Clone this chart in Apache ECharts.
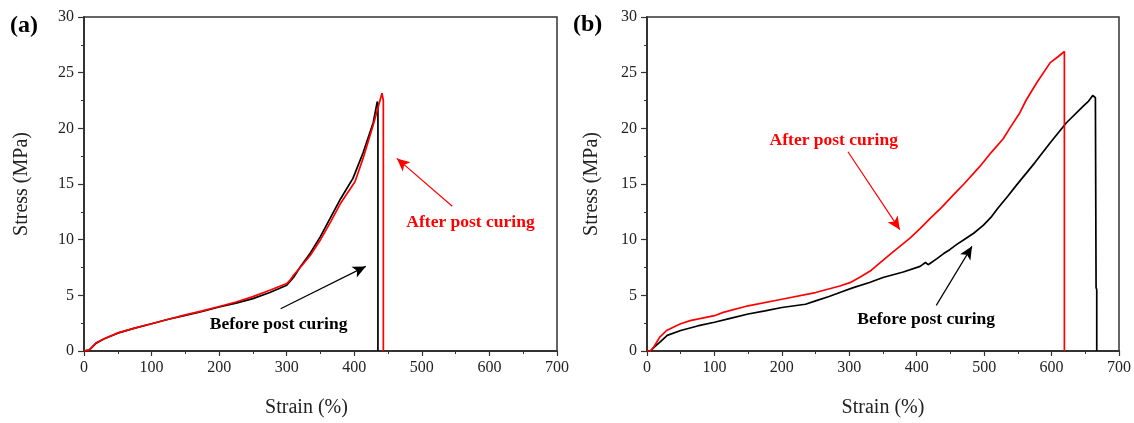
<!DOCTYPE html>
<html>
<head>
<meta charset="utf-8">
<script src="https://cdn.jsdelivr.net/npm/echarts@6/dist/echarts.min.js"></script>
<style>
html,body{margin:0;padding:0;background:#fff;}
#c{width:1134px;height:423px;}
</style>
</head>
<body>
<div id="c"></div>
<script>
// ---- Panel (a) data ----
var aBeforeStrain = [0, 8, 18, 30, 50, 75, 100, 125, 150, 175, 200, 225, 250, 275, 300, 310, 320, 335, 350, 365, 380, 398, 413, 428, 434, 435, 435];
var aBeforeStress = [0, 0.1, 0.7, 1.1, 1.6, 2.05, 2.45, 2.85, 3.2, 3.55, 3.95, 4.3, 4.7, 5.25, 5.9, 6.6, 7.55, 8.8, 10.3, 12.0, 13.7, 15.5, 17.8, 20.5, 22.4, 22.2, 0];
var aAfterStrain = [0, 8, 18, 30, 50, 75, 100, 125, 150, 175, 200, 225, 250, 275, 300, 305, 310, 320, 335, 350, 365, 380, 401, 413, 428, 441, 443, 443];
var aAfterStress = [0, 0.1, 0.74, 1.1, 1.63, 2.05, 2.45, 2.85, 3.25, 3.6, 4.0, 4.4, 4.88, 5.45, 6.06, 6.36, 6.8, 7.5, 8.6, 10.0, 11.6, 13.3, 15.2, 17.3, 20.3, 23.15, 22.5, 0];

// ---- Panel (b) data ----
var bBeforeStrain = [0, 5, 10, 20, 30, 50, 75, 100, 125, 150, 175, 200, 235, 250, 270, 290, 306, 330, 350, 380, 405, 413, 417, 430, 440, 449, 460, 470, 485, 499, 510, 520, 535, 548, 575, 598, 622, 647, 655, 661, 665, 666, 667, 667];
var bBeforeStress = [0, 0, 0.3, 0.85, 1.4, 1.84, 2.25, 2.58, 2.95, 3.32, 3.6, 3.91, 4.2, 4.5, 4.9, 5.35, 5.69, 6.15, 6.6, 7.1, 7.6, 7.95, 7.75, 8.3, 8.75, 9.1, 9.6, 10.0, 10.6, 11.3, 12.0, 12.8, 13.9, 14.9, 16.9, 18.7, 20.5, 22.0, 22.45, 22.95, 22.75, 5.7, 5.5, 0];
var bAfterStrain = [0, 5, 10, 19, 29, 49, 64, 100, 113, 150, 200, 250, 286, 301, 315, 331, 345, 360, 375, 390, 405, 420, 437, 454, 470, 494, 510, 528, 540, 553, 562, 578, 598, 610, 619, 619];
var bAfterStress = [0, 0, 0.36, 1.25, 1.84, 2.43, 2.73, 3.17, 3.47, 4.06, 4.65, 5.25, 5.84, 6.14, 6.6, 7.18, 7.9, 8.66, 9.4, 10.14, 11.0, 11.92, 12.9, 14.0, 15.0, 16.6, 17.8, 19.04, 20.2, 21.4, 22.5, 24.1, 25.9, 26.45, 26.9, 0];

// ---- Axes ----
var xTicks = [0, 100, 200, 300, 400, 500, 600, 700];
var yTicks = [0, 5, 10, 15, 20, 25, 30];
var xLabel = 'Strain (%)';
var yLabel = 'Stress (MPa)';
var panelLabels = ['(a)', '(b)'];
var afterText = 'After post curing';
var beforeText = 'Before post curing';

// ---- Annotations (data coordinates) ----
var aAfterArrow = [[545, 13.0], [463, 17.3]];
var aBeforeArrow = [[291, 3.8], [417, 7.6]];
var aAfterTextPos = [572, 11.5];
var aBeforeTextPos = [288, 2.4];
var bAfterArrow = [[298, 17.9], [375, 10.9]];
var bBeforeArrow = [[429, 4.1], [482, 9.4]];
var bAfterTextPos = [277, 18.9];
var bBeforeTextPos = [414, 2.8];

function pairs(xs, ys){ return xs.map(function(x,i){ return [x, ys[i]]; }); }

var RED = '#ff0000', BLACK = '#000000';
var serif = '"Liberation Serif", "Times New Roman", serif';

function makeX(idx, padRight){
  return {
    type:'value', gridIndex: idx, min: xTicks[0], max: xTicks[xTicks.length-1], interval: 100,
    name: xLabel, nameLocation:'middle', nameGap: 47,
    nameTextStyle:{fontFamily: serif, fontSize: 20, color:'#222', padding:[0, padRight, 0, 0]},
    axisLine:{show:true, onZero:false, lineStyle:{color:'#333', width:2}},
    axisTick:{show:true, length:5, lineStyle:{color:'#333', width:1.2}},
    minorTick:{show:true, splitNumber:2, length:3, lineStyle:{color:'#333', width:1}},
    axisLabel:{fontFamily: serif, fontSize:16, color:'#222', margin:9},
    splitLine:{show:false}
  };
}
function makeY(idx, gap){
  return {
    type:'value', gridIndex: idx, min: yTicks[0], max: yTicks[yTicks.length-1], interval: 5,
    name: yLabel, nameLocation:'middle', nameGap: gap, nameRotate: 90,
    nameTextStyle:{fontFamily: serif, fontSize: 20, color:'#222'},
    axisLine:{show:true, onZero:false, lineStyle:{color:'#333', width:2}},
    axisTick:{show:true, length:6, lineStyle:{color:'#333', width:1.2}},
    minorTick:{show:true, splitNumber:2, length:3, lineStyle:{color:'#333', width:1}},
    axisLabel:{fontFamily: serif, fontSize:16, color:'#222', margin:10},
    splitLine:{show:false}
  };
}

function arrow(pts, color){
  return {
    silent:true, symbol:['none','arrow'], symbolSize:[9,13],
    lineStyle:{color: color, width:1.2, type:'solid'},
    label:{show:false},
    emphasis:{disabled:true},
    data:[[{coord: pts[0]}, {coord: pts[1]}]]
  };
}
function textMark(pos, text, color){
  return {
    silent:true,
    data:[{coord: pos, symbol:'rect', symbolSize:1, itemStyle:{color:'rgba(0,0,0,0)'},
      label:{show:true, position:'inside', formatter: text, fontFamily: serif, fontWeight:'bold', fontSize:17.5, color: color}}]
  };
}

function lineSeries(idx, xs, ys, color, extra){
  var s = {
    type:'line', xAxisIndex: idx, yAxisIndex: idx, data: pairs(xs, ys),
    showSymbol:false, symbol:'none', smooth:false, clip:false,
    lineStyle:{color: color, width:1.7}, itemStyle:{color: color}, z: 3
  };
  for (var k in extra) s[k] = extra[k];
  return s;
}

var chart = echarts.init(document.getElementById('c'), null, {renderer:'canvas'});
chart.setOption({
  animation:false,
  backgroundColor:'#ffffff',
  grid:[
    {left:84, right:577, top:17, bottom:68, show:true, borderColor:'#333', borderWidth:1.5, backgroundColor:'transparent'},
    {left:647, right:15, top:17, bottom:69, show:true, borderColor:'#333', borderWidth:1.5, backgroundColor:'transparent'}
  ],
  xAxis:[makeX(0, 28), makeX(1, 0)],
  yAxis:[makeY(0, 52), makeY(1, 45)],
  graphic:[
    {type:'text', left:10, top:14, style:{text: panelLabels[0], font:'bold 24px ' + serif, fill:'#000'}},
    {type:'text', left:573, top:13, style:{text: panelLabels[1], font:'bold 24px ' + serif, fill:'#000'}}
  ],
  series:[
    lineSeries(0, aBeforeStrain, aBeforeStress, BLACK, {markLine: arrow(aBeforeArrow, BLACK), markPoint: textMark(aBeforeTextPos, beforeText, BLACK)}),
    lineSeries(0, aAfterStrain, aAfterStress, RED, {markLine: arrow(aAfterArrow, RED), markPoint: textMark(aAfterTextPos, afterText, RED)}),
    lineSeries(1, bBeforeStrain, bBeforeStress, BLACK, {markLine: arrow(bBeforeArrow, BLACK), markPoint: textMark(bBeforeTextPos, beforeText, BLACK)}),
    lineSeries(1, bAfterStrain, bAfterStress, RED, {markLine: arrow(bAfterArrow, RED), markPoint: textMark(bAfterTextPos, afterText, RED)})
  ]
});
</script>
</body>
</html>
